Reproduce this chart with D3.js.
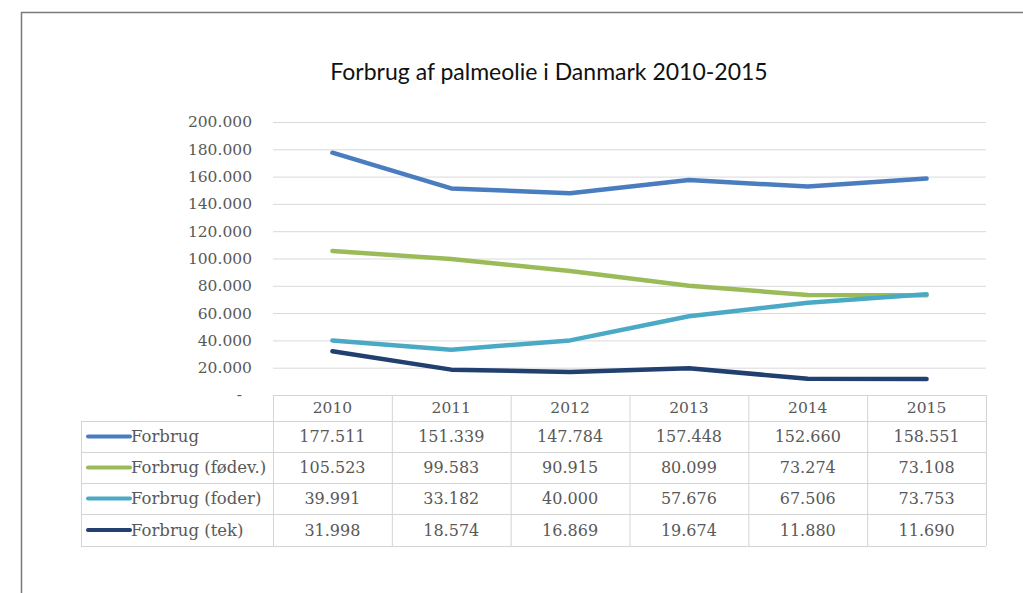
<!DOCTYPE html>
<html>
<head>
<meta charset="utf-8">
<script src="https://cdn.jsdelivr.net/npm/d3@7"></script>
<style>
  body { margin: 0; background: #fff; }
  svg { display: block; }
</style>
</head>
<body>
<svg id="chart" width="1023" height="593"></svg>
<script>
// data - aflæst fra tabellen under grafen
const years = ["2010", "2011", "2012", "2013", "2014", "2015"];
const seriesNames = ["Forbrug", "Forbrug (fødev.)", "Forbrug (foder)", "Forbrug (tek)"];
const forbrug = [177511, 151339, 147784, 157448, 152660, 158551];
const fodevarer = [105523, 99583, 90915, 80099, 73274, 73108];
const foder = [39991, 33182, 40000, 57676, 67506, 73753];
const teknisk = [31998, 18574, 16869, 19674, 11880, 11690];
const yTicks = [0, 20000, 40000, 60000, 80000, 100000, 120000, 140000, 160000, 180000, 200000];
const colors = ["#4a7dbf", "#9bbb59", "#4aaac6", "#213f6f"];

const series = [forbrug, fodevarer, foder, teknisk].map((vals, i) => ({
  name: seriesNames[i], values: vals, color: colors[i]
}));

const da = d3.formatLocale({ decimal: ",", thousands: ".", grouping: [3], currency: ["", " kr."] });
const fmt = da.format(",d");

const svg = d3.select("#chart");
const serif = "'DejaVu Serif', 'Liberation Serif', serif";

// ramme
svg.append("path")
  .attr("d", "M21.5,593 V12.5 H1023")
  .attr("fill", "none").attr("stroke", "#7a7a7a").attr("stroke-width", 1.5);

svg.append("text")
  .attr("x", 549).attr("y", 80)
  .attr("text-anchor", "middle")
  .attr("font-family", "Lato, 'Open Sans', sans-serif")
  .attr("font-size", 23)
  .attr("fill", "#111")
  .text("Forbrug af palmeolie i Danmark 2010-2015");

const left = 273, right = 986;
const x = d3.scaleBand().domain(years).range([left, right]);
const y = d3.scaleLinear().domain([0, 200000]).range([395, 122]);

// gitterlinjer
svg.append("g").selectAll("line").data(yTicks.filter(d => d > 0)).enter().append("line")
  .attr("x1", left).attr("x2", right)
  .attr("y1", d => y(d) + 0.5).attr("y2", d => y(d) + 0.5)
  .attr("stroke", "#d9d9d9").attr("stroke-width", 1);

// y-akse
const yAxis = svg.append("g")
  .attr("transform", `translate(${252},0)`)
  .call(d3.axisLeft(y).tickValues(yTicks).tickSize(0).tickPadding(0)
    .tickFormat(d => d === 0 ? "-" : fmt(d)));
yAxis.select(".domain").remove();
yAxis.selectAll("text")
  .attr("font-family", serif).attr("font-size", 15.5).attr("fill", "#595959");
yAxis.selectAll(".tick").filter(d => d === 0).select("text").attr("x", -10);

// linjer
const line = d3.line()
  .x((d, i) => x(years[i]) + x.bandwidth() / 2)
  .y(d => y(d));

svg.append("g").selectAll("path").data(series).enter().append("path")
  .attr("d", d => line(d.values))
  .attr("fill", "none")
  .attr("stroke", d => d.color)
  .attr("stroke-width", 4.5)
  .attr("stroke-linecap", "round")
  .attr("stroke-linejoin", "round");

// datatabel
const tableLeft = 81;
const rowEdges = [395, 421, 452, 483, 514, 546];
const grid = svg.append("g").attr("stroke", "#d4d4d4").attr("stroke-width", 1);

rowEdges.forEach((ry, i) => {
  grid.append("line")
    .attr("x1", i === 0 ? left : tableLeft).attr("x2", right)
    .attr("y1", ry + 0.5).attr("y2", ry + 0.5);
});
grid.append("line")
  .attr("x1", tableLeft + 0.5).attr("x2", tableLeft + 0.5)
  .attr("y1", rowEdges[1]).attr("y2", rowEdges[5]);
years.forEach(yr => {
  grid.append("line")
    .attr("x1", x(yr) + 0.5).attr("x2", x(yr) + 0.5)
    .attr("y1", rowEdges[0]).attr("y2", rowEdges[5]);
});
grid.append("line")
  .attr("x1", right + 0.5).attr("x2", right + 0.5)
  .attr("y1", rowEdges[0]).attr("y2", rowEdges[5]);

const tableText = svg.append("g")
  .attr("font-family", serif).attr("font-size", 16).attr("fill", "#595959");

tableText.selectAll("text.yr").data(years).enter().append("text")
  .attr("class", "yr")
  .attr("x", d => x(d) + x.bandwidth() / 2)
  .attr("y", (rowEdges[0] + rowEdges[1]) / 2)
  .attr("dy", "0.35em")
  .attr("text-anchor", "middle")
  .attr("font-size", 15.5)
  .text(d => d);

series.forEach((s, si) => {
  const cy = (rowEdges[si + 1] + rowEdges[si + 2]) / 2;
  svg.append("line")
    .attr("x1", 88).attr("x2", 130)
    .attr("y1", cy).attr("y2", cy)
    .attr("stroke", s.color).attr("stroke-width", 4)
    .attr("stroke-linecap", "round");
  tableText.append("text")
    .attr("x", 131).attr("y", cy).attr("dy", "0.35em")
    .attr("font-size", 16.5)
    .text(s.name);
  tableText.selectAll(null).data(s.values).enter().append("text")
    .attr("x", (d, i) => x(years[i]) + x.bandwidth() / 2)
    .attr("y", cy).attr("dy", "0.35em")
    .attr("text-anchor", "middle")
    .text(d => fmt(d));
});
</script>
</body>
</html>
